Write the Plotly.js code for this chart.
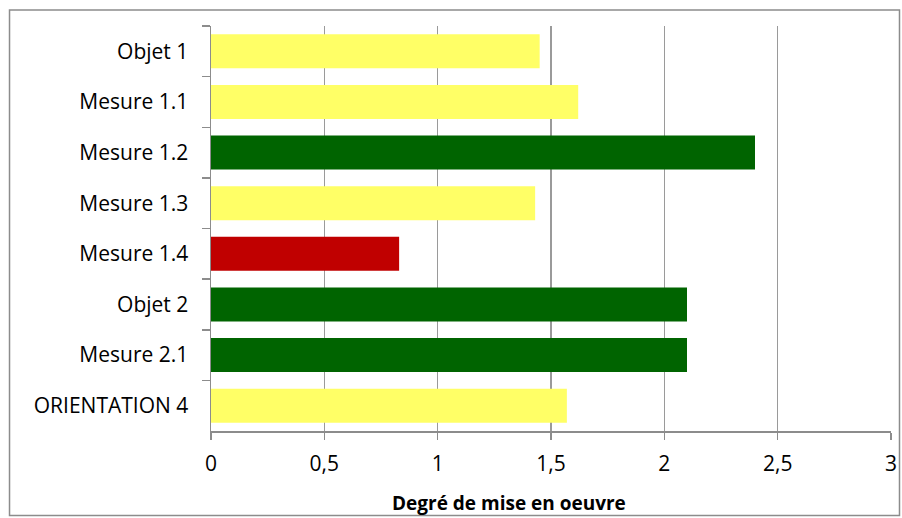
<!DOCTYPE html>
<html>
<head>
<meta charset="utf-8">
<script src="https://cdn.plot.ly/plotly-3.0.1.min.js"></script>
<style>
  html, body { margin: 0; padding: 0; background: #ffffff; }
  #chart { width: 902px; height: 518px; }
</style>
</head>
<body>
<div id="chart"></div>
<script>
// Data
const categories = ['Objet 1', 'Mesure 1.1', 'Mesure 1.2', 'Mesure 1.3', 'Mesure 1.4', 'Objet 2', 'Mesure 2.1', 'ORIENTATION 4'];
const values = [1.45, 1.62, 2.40, 1.43, 0.83, 2.10, 2.10, 1.57];
const xTickValues = [0, 0.5, 1, 1.5, 2, 2.5, 3];
const xTitle = 'Degré de mise en oeuvre';

// Colour by level of implementation
function levelColor(v) {
  if (v < 1) return '#C00000';
  if (v < 2) return '#FFFF66';
  return '#006400';
}

const FONT = '"Open Sans", "Liberation Sans", sans-serif';
const GREY = '#8c8c8c';

const trace = {
  type: 'bar',
  orientation: 'h',
  y: categories,
  x: values,
  marker: { color: values.map(levelColor), line: { width: 0 } },
  hoverinfo: 'x+y'
};

const layout = {
  width: 902,
  height: 518,
  margin: { l: 211, r: 11, t: 26, b: 87, pad: 0 },
  paper_bgcolor: '#ffffff',
  plot_bgcolor: '#ffffff',
  separators: ', ',
  showlegend: false,
  bargap: 0.33,
  font: { family: FONT, size: 21, color: '#000000' },
  xaxis: {
    range: [0, 3],
    tickvals: xTickValues,
    showgrid: true,
    gridcolor: '#9a9a9a',
    gridwidth: 1.5,
    zeroline: false,
    showline: true,
    linecolor: GREY,
    linewidth: 1.5,
    ticks: 'outside',
    ticklen: 7,
    tickwidth: 1.5,
    tickcolor: GREY,
    ticklabelstandoff: 6,
    tickfont: { family: FONT, size: 21, color: '#000000' },
    fixedrange: true
  },
  yaxis: {
    type: 'category',
    autorange: 'reversed',
    showgrid: false,
    zeroline: false,
    showline: true,
    linecolor: GREY,
    linewidth: 1.5,
    ticks: 'outside',
    tickson: 'boundaries',
    ticklen: 8,
    tickwidth: 1.5,
    tickcolor: GREY,
    ticklabelstandoff: 17,
    tickfont: { family: FONT, size: 21, color: '#000000' },
    fixedrange: true
  },
  annotations: [{
    text: '<b>' + xTitle + '</b>',
    xref: 'paper', yref: 'paper',
    x: 0.438, y: -0.178,
    xanchor: 'center', yanchor: 'middle',
    showarrow: false,
    font: { family: FONT, size: 19, color: '#000000' }
  }],
  shapes: [{
    type: 'rect',
    xref: 'paper', yref: 'paper',
    x0: -0.2963, x1: 1.0125,
    y0: -0.2086, y1: 1.0395,
    line: { color: GREY, width: 1.5 },
    fillcolor: 'rgba(0,0,0,0)',
    layer: 'below'
  }]
};

Plotly.newPlot('chart', [trace], layout, { displayModeBar: false, staticPlot: true });
</script>
</body>
</html>
